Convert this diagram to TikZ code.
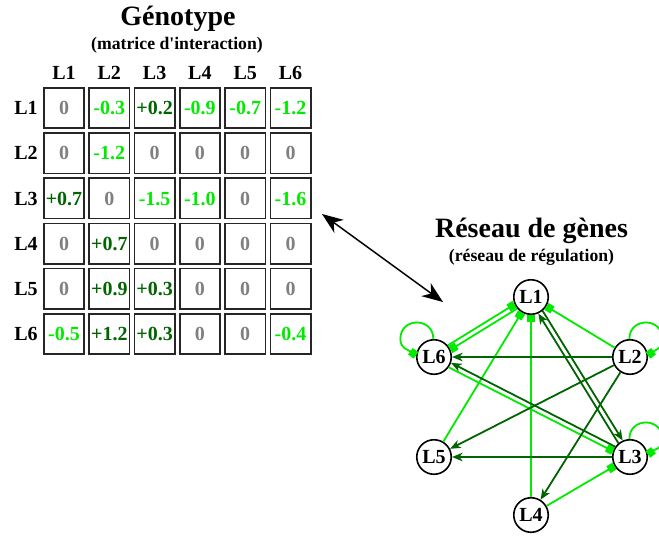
\documentclass[tikz,border=0pt]{standalone}
\usepackage{fontspec}
\setmainfont{Liberation Serif}
\usetikzlibrary{arrows.meta,calc}
\definecolor{lgreen}{RGB}{0,235,0}
\definecolor{dgreen}{RGB}{0,100,0}
\definecolor{zgray}{RGB}{128,128,128}
\begin{document}
\begin{tikzpicture}[x=1pt,y=-1pt,
  cell/.style={draw=black!85,line width=1.6pt,minimum size=40.4pt,inner sep=0pt,
    text height=13.5pt,text depth=0pt,font=\fontsize{20}{24}\selectfont\bfseries},
  lab/.style={inner sep=0pt,text height=13.5pt,text depth=0pt,font=\fontsize{20}{24}\selectfont\bfseries},
  gene/.style={circle,draw=black,fill=white,line width=1.6pt,minimum size=34.5pt,inner sep=0pt,
    text height=13.5pt,text depth=0pt,font=\fontsize{20}{24}\selectfont\bfseries},
  bigtitle/.style={anchor=base,inner sep=0pt,font=\fontsize{28}{32}\selectfont\bfseries},
  subtitle/.style={anchor=base,inner sep=0pt,font=\fontsize{17.7}{20}\selectfont\bfseries},
  inh/.style={draw=lgreen,line width=1.8pt,-{Square[length=7pt,width=8pt]}},
  act/.style={draw=dgreen,line width=1.8pt,-{Stealth[length=10.5pt,width=8.5pt,inset=3pt]}},
  link/.style={draw=black,line width=1.5pt,{Stealth[length=21pt,width=16pt,inset=6.5pt]}-{Stealth[length=21pt,width=16pt,inset=6.5pt]}}
]
\useasboundingbox (0,0) rectangle (659,536);
\clip (0,0) rectangle (659,536);
\fill[white] (0,0) rectangle (659,536);

% titles
\node[bigtitle] (t1) at (178,25) {Génotype};
\node[subtitle] (s1) at (177,49) {(matrice d\textquotesingle interaction)};
\node[bigtitle] (t2) at (531.5,237) {Réseau de gènes};
\node[subtitle] (s2) at (531.5,261) {(réseau de régulation)};

% matrix labels
\foreach \c in {1,...,6}{
  \node[lab] (col\c) at ({64+45.3*(\c-1)},72.3) {L\c};
  \node[lab] (row\c) at (26,{108+45.2*(\c-1)}) {L\c};
}

% matrix cells
\foreach \r/\c/\v/\k in {
1/1/0/zgray,1/2/-0.3/lgreen,1/3/+0.2/dgreen,1/4/-0.9/lgreen,1/5/-0.7/lgreen,1/6/-1.2/lgreen,
2/1/0/zgray,2/2/-1.2/lgreen,2/3/0/zgray,2/4/0/zgray,2/5/0/zgray,2/6/0/zgray,
3/1/+0.7/dgreen,3/2/0/zgray,3/3/-1.5/lgreen,3/4/-1.0/lgreen,3/5/0/zgray,3/6/-1.6/lgreen,
4/1/0/zgray,4/2/+0.7/dgreen,4/3/0/zgray,4/4/0/zgray,4/5/0/zgray,4/6/0/zgray,
5/1/0/zgray,5/2/+0.9/dgreen,5/3/+0.3/dgreen,5/4/0/zgray,5/5/0/zgray,5/6/0/zgray,
6/1/-0.5/lgreen,6/2/+1.2/dgreen,6/3/+0.3/dgreen,6/4/0/zgray,6/5/0/zgray,6/6/-0.4/lgreen}
  \node[cell,text=\k] (m\r\c) at ({64+45.3*(\c-1)},{108+45.2*(\r-1)}) {\v};

% double arrow
\coordinate (pA) at (322,214);
\coordinate (pB) at (443,302);
\draw[link] (pA) -- (pB);

% genes
\node[gene] (L1) at (531,297) {L1};
\node[gene] (L2) at (630,357) {L2};
\node[gene] (L3) at (630,457) {L3};
\node[gene] (L4) at (531,515) {L4};
\node[gene] (L5) at (434,457) {L5};
\node[gene] (L6) at (434,357) {L6};

% inhibitions
\draw[inh] (L2) -- (L1);
\draw[inh] (L4) -- (L1);
\draw[inh] (L5) -- (L1);
\draw[inh] (L6.40) -- (L1.204);
\draw[inh] (L1.220) -- (L6.24);
\draw[inh] (L4) -- (L3);
\draw[inh] (L6.325) -- (L3.161);
% activations
\draw[act] (L3.130) -- (L1.294);
\draw[act] (L1.310) -- (L3.114);
\draw[act] (L2) -- (L4);
\draw[act] (L2) -- (L5);
\draw[act] (L3) -- (L5);
\draw[act] (L2) -- (L6);
\draw[act] (L3.145) -- (L6.341);

% self loops
\draw[inh] (L6.92) .. controls +(0,-22) and +(0,-22) .. ++(-33,0)
  .. controls +(0,10) and +(-8,-6) .. (L6.175);
\draw[inh] (L2.92) .. controls +(0,-22) and +(0,-22) .. ++(33,0)
  .. controls +(0,10) and +(8,-6) .. (L2.5);
\draw[inh] (L3.92) .. controls +(0,-22) and +(0,-22) .. ++(33,0)
  .. controls +(0,10) and +(8,-6) .. (L3.8);
\end{tikzpicture}
\end{document}
